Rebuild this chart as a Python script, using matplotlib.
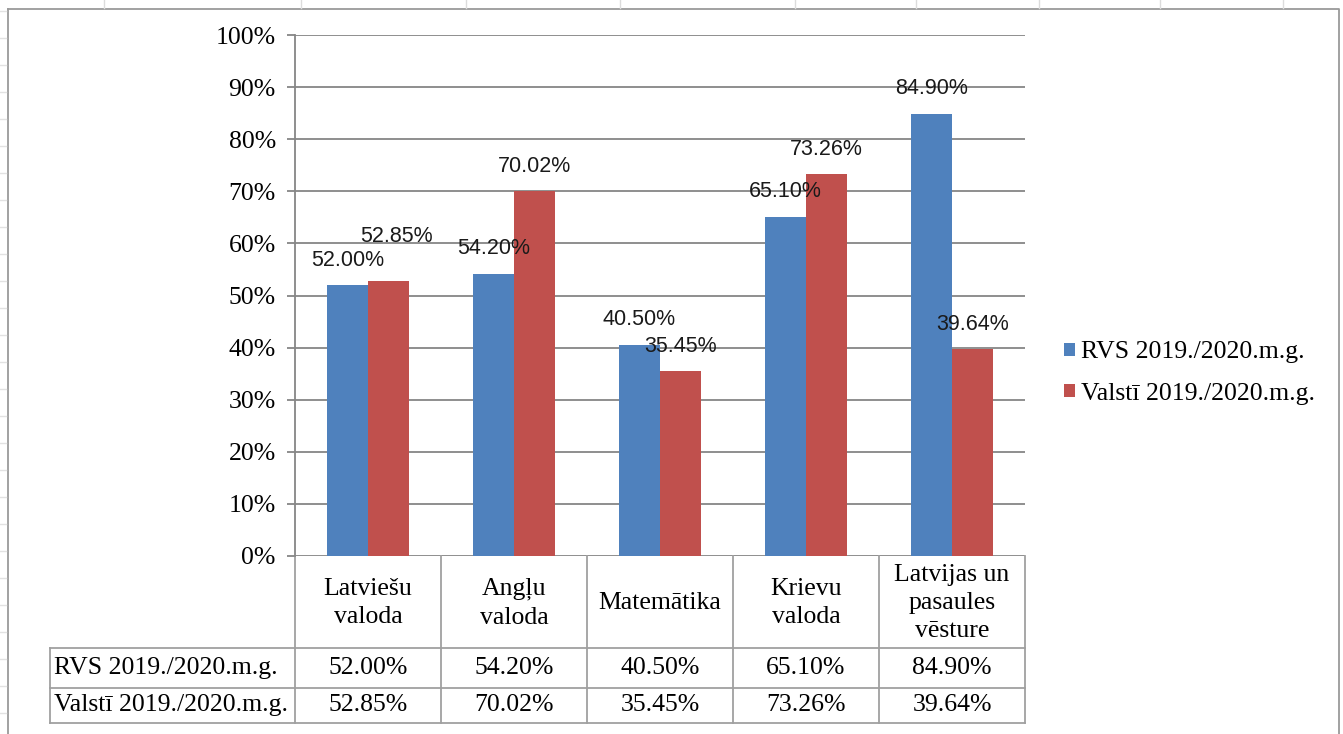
import matplotlib
matplotlib.use("Agg")
import matplotlib.pyplot as plt
import matplotlib.transforms as mtransforms
from matplotlib.patches import Patch
import numpy as np

categories = ["Latviešu\nvaloda", "Angļu\nvaloda", "Matemātika", "Krievu\nvaloda", "Latvijas un\npasaules\nvēsture"]
series_names = ["RVS 2019./2020.m.g.", "Valstī 2019./2020.m.g."]
rvs = [52.00, 54.20, 40.50, 65.10, 84.90]
valsti = [52.85, 70.02, 35.45, 73.26, 39.64]
yticks = [0, 10, 20, 30, 40, 50, 60, 70, 80, 90, 100]

BLUE = "#4F81BD"
RED = "#C0504D"
GRID = "#868686"
SERIF = "Liberation Serif"
SANS = "Liberation Sans"
FS = 18.5

W, H = 1343, 734
fig = plt.figure(figsize=(W / 100, H / 100), dpi=100)
fig.patch.set_facecolor("white")

# background layer in pixel coordinates (outer chart border and sheet grid ticks)
bg = fig.add_axes([0, 0, 1, 1], zorder=-1)
bg.set_xlim(0, W)
bg.set_ylim(H, 0)
bg.axis("off")
bg.plot([8, 1339, 1339], [9, 9, H], color="#9a9a9a", lw=1.3)
bg.plot([8, 8], [9, H], color="#9a9a9a", lw=1.3)
for xt in [104, 301, 466, 620, 795, 916, 1039, 1160, 1283]:
    bg.plot([xt, xt], [0, 8], color="#dcdcdc", lw=1)
for yt in range(11, H, 27):
    bg.plot([0, 6], [yt, yt], color="#e2e2e2", lw=1)

# main plot area
x0, x1, ytop, ybot = 295, 1025, 35, 556
ax = fig.add_axes([x0 / W, 1 - ybot / H, (x1 - x0) / W, (ybot - ytop) / H])
ax.set_facecolor("none")
x = np.arange(len(categories))
bw = 0.28
b1 = ax.bar(x - bw / 2, rvs, bw, color=BLUE, zorder=3)
b2 = ax.bar(x + bw / 2, valsti, bw, color=RED, zorder=3)
ax.set_xlim(-0.5, len(categories) - 0.5)
ax.set_ylim(0, 100)
ax.set_yticks(yticks)
ax.set_yticklabels([f"{t}%" for t in yticks], fontfamily=SERIF, fontsize=FS)
ax.tick_params(axis="y", length=5.8, width=1.3, color=GRID, pad=8)
ax.set_xticks([])
ax.grid(axis="y", color=GRID, lw=1.3, zorder=0)
for s in ["top", "right", "bottom"]:
    ax.spines[s].set_visible(False)
ax.spines["left"].set_color(GRID)
ax.spines["left"].set_linewidth(1.3)

# data labels
nudges = {(1, 0): (6, 14)}
for si, (vals, bars) in enumerate([(rvs, b1), (valsti, b2)]):
    for i, (v, b) in enumerate(zip(vals, bars)):
        dx, dy = nudges.get((si, i), (0, 0))
        ax.annotate(f"{v:.2f}%", (b.get_x() + b.get_width() / 2, v),
                    xytext=(dx, 18 + dy), textcoords="offset points",
                    ha="center", va="center", fontfamily=SANS, fontsize=15.5,
                    color="#1a1a1a", zorder=5, annotation_clip=False)

# data table below the axis
tr = mtransforms.blended_transform_factory(ax.transData, ax.transAxes)
axh = ybot - ytop
def fy(py):
    return (ybot - py) / axh
xleft = -0.5 + (50 - x0) / ((x1 - x0) / len(categories))
xlab = -0.5 + (54 - x0) / ((x1 - x0) / len(categories))
row_lines = [fy(648), fy(688), fy(723)]
for yy in row_lines:
    ax.plot([xleft, len(categories) - 0.5], [yy, yy], transform=tr, color="#a0a0a0", lw=1.3, clip_on=False)
for k in range(len(categories) + 1):
    ax.plot([k - 0.5, k - 0.5], [0, row_lines[-1]], transform=tr, color="#a0a0a0", lw=1.3, clip_on=False)
ax.plot([xleft, xleft], [row_lines[0], row_lines[-1]], transform=tr, color="#a0a0a0", lw=1.3, clip_on=False)

for i, c in enumerate(categories):
    ax.text(i, fy(603), c, transform=tr, ha="center", va="center", fontfamily=SERIF,
            fontsize=FS, linespacing=1.38)
row_y = [fy(668), fy(705)]
for ri, (name, vals) in enumerate(zip(series_names, [rvs, valsti])):
    ax.text(xlab, row_y[ri], name, transform=tr, ha="left", va="center", fontfamily=SERIF, fontsize=FS)
    for i, v in enumerate(vals):
        ax.text(i, row_y[ri], f"{v:.2f}%", transform=tr, ha="center", va="center",
                fontfamily=SERIF, fontsize=FS)

# legend
handles = [Patch(facecolor=BLUE), Patch(facecolor=RED)]
fig.legend(handles, series_names, loc="center left", bbox_to_anchor=(1064 / W, 1 - 373 / H),
           frameon=False, prop={"family": SERIF, "size": FS}, handlelength=0.42, handleheight=0.42,
           handletextpad=0.25, labelspacing=0.75, borderpad=0, borderaxespad=0)

fig.savefig("out.png", dpi=100, facecolor="white")
